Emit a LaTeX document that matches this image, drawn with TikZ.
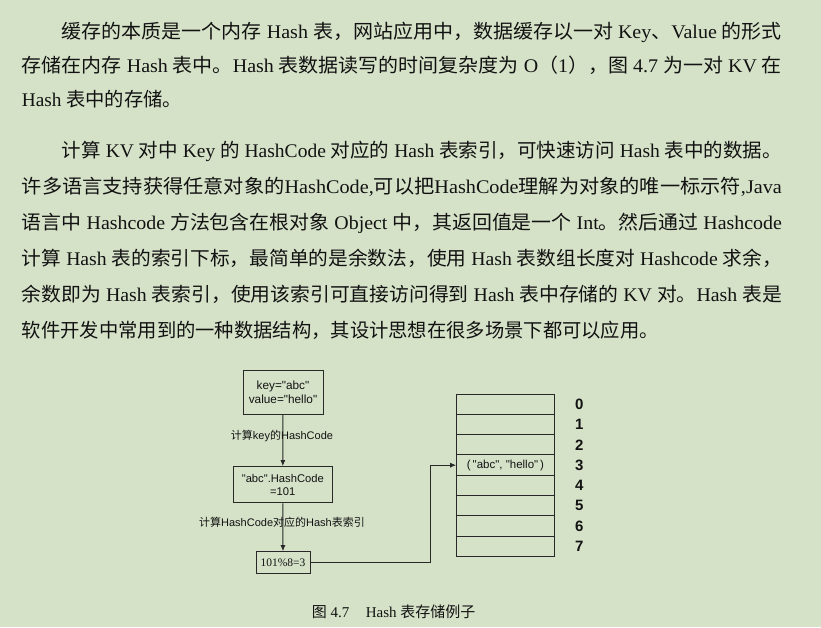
\documentclass[tikz,border=0pt]{standalone}
\usepackage{fontspec}
\usepackage{graphicx}
\setmainfont{Liberation Serif}
\newfontfamily\cjk{Noto Sans CJK SC}
\newfontfamily\dsans{Liberation Sans}
\usetikzlibrary{arrows.meta}
\definecolor{bg}{RGB}{213,226,200}
\definecolor{ink}{RGB}{18,18,18}
\definecolor{lineink}{RGB}{40,40,40}
\newcommand\zh[1]{{\cjk #1}}
\newcommand\fullline[1]{\resizebox{760pt}{\height}{#1}}
\newcommand\indline[1]{\resizebox{720pt}{\height}{#1}}
\tikzset{
  para/.style={anchor=base west, inner sep=0pt, text=ink, font=\fontsize{19.3}{20}\selectfont},
  box/.style={draw=lineink, line width=1pt, inner sep=0pt, align=center, text=ink},
  cell/.style={draw=lineink, line width=1pt, minimum width=97.6pt, minimum height=20.33pt, inner sep=0pt, text=ink, font=\dsans\fontsize{11}{13}\selectfont},
  idx/.style={text=ink, font=\dsans\bfseries\fontsize{15}{15}\selectfont, inner sep=0pt},
  lab/.style={text=ink, font=\dsans\fontsize{11}{13}\selectfont, inner sep=0pt},
  conn/.style={draw=lineink, line width=1pt},
  arr/.style={conn, -{Latex[length=6pt,width=5pt]}},
}
\begin{document}
\begin{tikzpicture}[x=1pt,y=-1pt]
\fill[bg] (0,0) rectangle (821,627);
\useasboundingbox (0,0) rectangle (821,627);

% paragraph 1
\node[para] (p1a) at (61.7,38) {\indline{\zh{缓存的本质是一个内存} Hash \zh{表，网站应用中，数据缓存以一对} Key\zh{、}Value \zh{的形式}}};
\node[para] (p1b) at (21.7,72.3) {\fullline{\zh{存储在内存} Hash \zh{表中。}Hash \zh{表数据读写的时间复杂度为} O\zh{（}1\zh{），图} 4.7 \zh{为一对} KV \zh{在}}};
\node[para] (p1c) at (21.7,106.3) {Hash \zh{表中的存储。}};

% paragraph 2
\node[para] (p2a) at (61.7,157.3) {\indline{\zh{计算} KV \zh{对中} Key \zh{的} HashCode \zh{对应的} Hash \zh{表索引，可快速访问} Hash \zh{表中的数据。}}};
\node[para] (p2b) at (21.7,193.5) {\fullline{\zh{许多语言支持获得任意对象的}HashCode,\zh{可以把}HashCode\zh{理解为对象的唯一标示符},Java}};
\node[para] (p2c) at (21.7,229.5) {\fullline{\zh{语言中} Hashcode \zh{方法包含在根对象} Object \zh{中，其返回值是一个} Int\zh{。然后通过} Hashcode}};
\node[para] (p2d) at (21.7,265.3) {\fullline{\zh{计算} Hash \zh{表的索引下标，最简单的是余数法，使用} Hash \zh{表数组长度对} Hashcode \zh{求余，}}};
\node[para] (p2e) at (21.7,301.5) {\fullline{\zh{余数即为} Hash \zh{表索引，使用该索引可直接访问得到} Hash \zh{表中存储的} KV \zh{对。}Hash \zh{表是}}};
\node[para] (p2f) at (21.7,337.3) {\zh{软件开发中常用到的一种数据结构，其设计思想在很多场景下都可以应用。}};

% flow boxes
\node[box, minimum width=80pt, minimum height=43.6pt, font=\dsans\fontsize{11.8}{14}\selectfont] (b1) at (283,392.5) {key="abc"\\value="hello"};
\node[box, minimum width=99pt, minimum height=36.3pt, font=\dsans\fontsize{11.2}{13.4}\selectfont] (b2) at (282.8,484.8) {"abc".HashCode\\=101};
\node[box, minimum width=54pt, minimum height=21.6pt, font=\fontsize{11.5}{13}\selectfont] (b3) at (283,562.5) {101\%8=3};

\draw[arr] (b1) -- (b2);
\draw[arr] (b2) -- (b3);
\node[lab] (l1) at (282,436) {\zh{计算}key\zh{的}HashCode};
\node[lab] (l2) at (282,522) {\zh{计算}HashCode\zh{对应的}Hash\zh{表索引}};

% hash table
\foreach \k in {0,...,7}{
  \node[cell] (r\k) at (505.5,{394+20.33*(\k+0.5)}) {};
  \node[idx] (n\k) at (579.3,{394+20.33*(\k+0.5)}) {\k};
}
\node[inner sep=0pt, text=ink, font=\dsans\fontsize{11.5}{13}\selectfont] (kv) at (r3) {(\,"abc",\;"hello"\,)};

\coordinate (bend) at (430.5,0);
\draw[arr] (b3.east) -| (bend |- r3.west) -- (r3.west);

% caption
\node[anchor=base west, inner sep=0pt, text=ink, font=\fontsize{15}{16}\selectfont] (cap) at (311.7,617) {\zh{图} 4.7\hspace{1.1em}Hash \zh{表存储例子}};
\end{tikzpicture}
\end{document}
